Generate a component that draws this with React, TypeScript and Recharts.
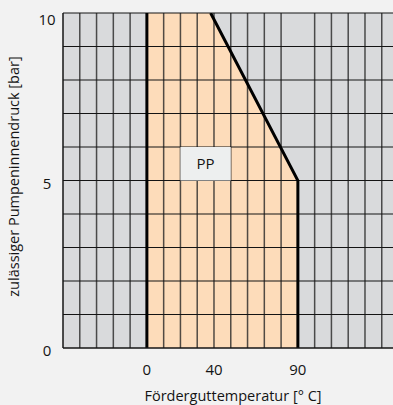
import {
  ComposedChart, Area, Line, XAxis, YAxis, CartesianGrid,
  ReferenceArea, ReferenceLine, Label,
} from "recharts";

// axis ticks
const tempTicks = [0, 40, 90];
const pressureTicks = [0, 5, 10];

// grid (every 10 °C, every 1 bar)
const gridTemps = [-40, -30, -20, -10, 0, 10, 20, 30, 40, 50, 60, 70, 80, 100, 110, 120, 130, 140];
const gridPressures = [1, 2, 3, 4, 5, 6, 7, 8, 9, 10];

// PP limit curve
const limitTemps = [0, 38, 90];
const limitPressures = [10, 10, 5];

const FONT = '"Open Sans", sans-serif';
const INK = "#141414";

const areaData = limitTemps.map((t, i) => ({ t, p: limitPressures[i] }));
// left edge, gap, then the sloped edge down to the right edge
const boundaryData = [
  { t: limitTemps[0], p: 0 },
  { t: limitTemps[0], p: limitPressures[0] },
  { t: (limitTemps[0] + limitTemps[1]) / 2, p: null },
  { t: limitTemps[1], p: limitPressures[1] },
  { t: limitTemps[2], p: limitPressures[2] },
  { t: limitTemps[2], p: 0 },
];

const YTick = ({ y, payload }: any) => (
  <text x={47} y={y + (payload.value === 10 ? 12 : 8)} textAnchor="middle" fontSize={15} fill={INK} fontFamily={FONT}>
    {payload.value}
  </text>
);

const XTick = ({ x, y, payload }: any) => (
  <text x={x} y={y + 19} textAnchor="middle" fontSize={15} fill={INK} fontFamily={FONT}>
    {payload.value}
  </text>
);

export default function App() {
  return (
    <div style={{ position: "absolute", left: 0, top: 0, width: 393, height: 405, background: "#F2F2F2", overflow: "hidden" }}>
      <ComposedChart width={393} height={405} margin={{ top: 13, right: 0, bottom: 0, left: 0 }}>
        <CartesianGrid horizontal={false} vertical={false} fill="#D9DADC" fillOpacity={1} />
        <XAxis
          dataKey="t" type="number" domain={[-50, 146.7]} ticks={tempTicks}
          allowDataOverflow height={57} tickLine={false}
          axisLine={{ stroke: INK, strokeWidth: 1.5 }} tick={XTick}
        >
          <Label value="Förderguttemperatur [° C]" position="insideBottom" offset={4} dx={5}
            style={{ fontSize: 14.5, fill: INK, fontFamily: FONT }} />
        </XAxis>
        <YAxis
          dataKey="p" type="number" domain={[0, 10]} ticks={pressureTicks}
          allowDataOverflow width={63} tickLine={false}
          axisLine={{ stroke: INK, strokeWidth: 1.5 }} tick={YTick}
        >
          <Label value="zulässiger Pumpeninnendruck [bar]" angle={-90} position="insideLeft" offset={14} dy={-4}
            style={{ fontSize: 14.5, fill: INK, fontFamily: FONT, textAnchor: "middle" }} />
        </YAxis>
        <Area data={areaData} dataKey="p" type="linear" baseValue={0} fill="#FDDCBA" fillOpacity={1}
          stroke="none" isAnimationActive={false} dot={false} activeDot={false} zIndex={100} />
        {gridTemps.map((t) => (
          <ReferenceLine key={"v" + t} x={t} stroke="#262626" strokeOpacity={0.8} strokeWidth={1.5} zIndex={150} />
        ))}
        {gridPressures.map((p) => (
          <ReferenceLine key={"h" + p} y={p} stroke={INK} strokeWidth={1.2} zIndex={150} />
        ))}
        <ReferenceArea x1={20} x2={50} y1={5} y2={6} fill="#EDEFEF" fillOpacity={1} stroke="none" zIndex={200}
          label={{ value: "PP", position: "center", fontSize: 15, fill: INK, fontFamily: FONT }} />
        <Line data={boundaryData} dataKey="p" type="linear" stroke="#000" strokeWidth={3}
          dot={false} activeDot={false} connectNulls={false} isAnimationActive={false} zIndex={400} />
      </ComposedChart>
    </div>
  );
}
